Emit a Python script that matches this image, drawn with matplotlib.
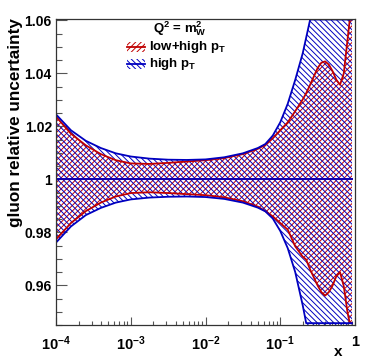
import numpy as np
import matplotlib
matplotlib.use("Agg")
import matplotlib.pyplot as plt
from matplotlib.patches import Rectangle
from matplotlib.ticker import FixedLocator, FixedFormatter, LogLocator, NullFormatter, MultipleLocator

plt.rcParams['font.family'] = ['Liberation Sans', 'DejaVu Sans']
plt.rcParams['font.weight'] = 'bold'
plt.rcParams['mathtext.fontset'] = 'custom'
plt.rcParams['mathtext.bf'] = 'Liberation Sans:bold'
plt.rcParams['mathtext.rm'] = 'Liberation Sans:bold'
plt.rcParams['mathtext.it'] = 'Liberation Sans:bold'
plt.rcParams['mathtext.default'] = 'bf'
plt.rcParams['hatch.linewidth'] = 0.7

# x values
x = 10 ** np.array([-4.0, -3.8, -3.6, -3.4, -3.2, -3.0, -2.75, -2.5, -2.25, -2.0,
                    -1.75, -1.5, -1.3, -1.2, -1.1, -1.0, -0.9, -0.8, -0.7, -0.653,
                    -0.6, -0.5, -0.45, -0.4, -0.35, -0.3, -0.25, -0.2, -0.15,
                    -0.1, -0.07, -0.04])

# high pT band
blue_up = [1.0245, 1.0185, 1.0145, 1.0118, 1.0098, 1.0086, 1.0078, 1.0074, 1.0073, 1.0075,
           1.0083, 1.0098, 1.0118, 1.0133, 1.0165, 1.0215, 1.0285, 1.0375, 1.0475, 1.0535,
           1.0605, 1.0750, 1.0800, 1.0850, 1.0900, 1.0950, 1.1000, 1.1050, 1.1100,
           1.1150, 1.1200, 1.1250]
blue_lo = [0.9761, 0.9822, 0.9865, 0.9892, 0.9912, 0.9924, 0.9931, 0.9934, 0.9935, 0.9933,
           0.9926, 0.9912, 0.9893, 0.9879, 0.9852, 0.9805, 0.9740, 0.9650, 0.9525, 0.9455,
           0.9380, 0.9250, 0.9200, 0.9150, 0.9100, 0.9050, 0.9000, 0.8950, 0.8900,
           0.8850, 0.8800, 0.8750]

# low+high pT band
red_up = [1.0237, 1.0172, 1.0128, 1.0095, 1.0072, 1.0060, 1.0058, 1.0062, 1.0067, 1.0072,
          1.0080, 1.0095, 1.0115, 1.0130, 1.0155, 1.0185, 1.0215, 1.0257, 1.0301, 1.0325,
          1.0357, 1.0420, 1.0440, 1.0445, 1.0433, 1.0408, 1.0376, 1.0357, 1.0400,
          1.0527, 1.0603, 1.0700]
red_lo = [0.9773, 0.9835, 0.9880, 0.9912, 0.9935, 0.9948, 0.9951, 0.9948, 0.9944, 0.9940,
          0.9932, 0.9917, 0.9897, 0.9880, 0.9860, 0.9835, 0.9810, 0.9747, 0.9708, 0.9697,
          0.9659, 0.9599, 0.9574, 0.9561, 0.9574, 0.9599, 0.9634, 0.9649, 0.9596,
          0.9497, 0.9440, 0.9400]

central = [1.0] * len(x)

red = '#c00000'
blue = '#0000c0'
ymin, ymax = 0.945, 1.0605

fig = plt.figure(figsize=(3.74, 3.63), dpi=100)
ax = fig.add_axes([56 / 374, 38 / 363, 299 / 374, 306 / 363])

ax.fill_between(x, red_lo, red_up, facecolor='none', edgecolor=red, hatch='//////', linewidth=0)
ax.fill_between(x, blue_lo, blue_up, facecolor='none', edgecolor=blue, hatch='\\' * 6, linewidth=0)

def clip(v):
    return np.clip(v, ymin + 0.0007, ymax - 0.0002)

ax.plot(x, clip(red_up), color=red, lw=1.3)
ax.plot(x, clip(red_lo), color=red, lw=1.3)
ax.plot(x, clip(blue_up), color=blue, lw=1.3)
ax.plot(x, clip(blue_lo), color=blue, lw=1.3)
ax.plot(x, central, color=red, lw=1.3)
ax.plot(x, central, color=blue, lw=1.3)

ax.set_xscale('log')
ax.set_xlim(1e-4, 1)
ax.set_ylim(ymin, ymax)

ax.xaxis.set_major_locator(FixedLocator([1e-4, 1e-3, 1e-2, 1e-1, 1]))
ax.xaxis.set_major_formatter(FixedFormatter(['$10^{-4}$', '$10^{-3}$', '$10^{-2}$', '$10^{-1}$', '1']))
ax.xaxis.set_minor_locator(LogLocator(base=10, subs=np.arange(2, 10), numticks=20))
ax.xaxis.set_minor_formatter(NullFormatter())

yt = [0.96, 0.98, 1.0, 1.02, 1.04, 1.06]
ax.yaxis.set_major_locator(FixedLocator(yt))
ax.yaxis.set_major_formatter(FixedFormatter(['0.96', '0.98', '1', '1.02', '1.04', '1.06']))
ax.yaxis.set_minor_locator(MultipleLocator(0.005))

ax.tick_params(which='both', direction='in', top=False, right=False, color='#555555', width=0.8)
ax.tick_params(axis='y', which='major', length=8, pad=3, labelsize=10)
ax.tick_params(axis='y', which='minor', length=4)
ax.tick_params(axis='x', which='major', length=6, pad=7, labelsize=10.5)
ax.tick_params(axis='x', which='minor', length=3)
for s in ax.spines.values():
    s.set_color('#333333')
    s.set_linewidth(0.9)

fig.text(16 / 374, 1 - 18 / 363, 'gluon relative uncertainty', rotation=90,
         ha='center', va='top', fontsize=12.3, fontweight='bold')
fig.text(338 / 374, 1 - 352 / 363, 'x', ha='center', va='center', fontsize=11, fontweight='bold')

# legend
ax.text(0.415, 0.967, r'$Q^{2}$ = m$_{W}^{2}$', transform=ax.transAxes, ha='center', va='center', fontsize=9.5)
for fy, c, h, lab in [(0.908, red, '//////', r'low+high p$_{T}$'), (0.853, blue, '\\' * 6, r'high p$_{T}$')]:
    ax.add_patch(Rectangle((0.237, fy - 0.017), 0.061, 0.034, transform=ax.transAxes,
                           facecolor='none', edgecolor=c, hatch=h, linewidth=0))
    ax.plot([0.237, 0.298], [fy, fy], transform=ax.transAxes, color=c, lw=1.3)
    ax.text(0.311, fy, lab, transform=ax.transAxes, ha='left', va='center', fontsize=9.5)

fig.savefig('out.png', dpi=100)
